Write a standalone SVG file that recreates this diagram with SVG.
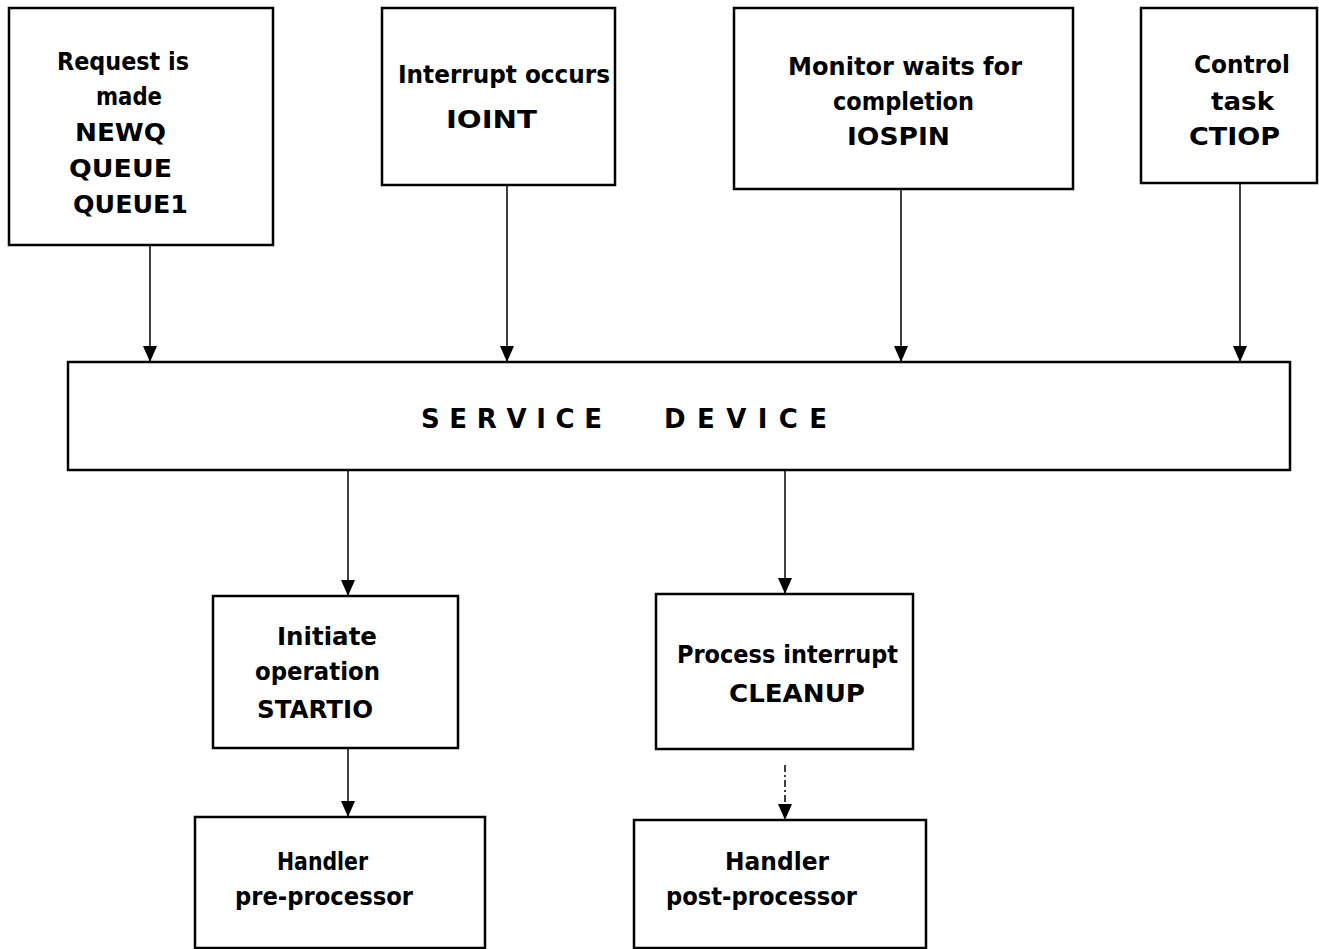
<svg xmlns="http://www.w3.org/2000/svg" width="1319" height="949" viewBox="0 0 1319 949">
<defs>
<style>
.box{fill:#fff;stroke:#000;stroke-width:2.5}
.t{font-family:"DejaVu Sans","Liberation Sans",sans-serif;font-weight:bold;font-size:25px;fill:#000}
.big{font-size:26px}
.ln{stroke:#000;stroke-width:1.5;fill:none}
</style>
<marker id="ah" markerWidth="16" markerHeight="14" refX="16" refY="7" orient="auto" markerUnits="userSpaceOnUse" viewBox="0 0 16 14">
<path d="M0,0 L16,7 L0,14 Z" fill="#000"/>
</marker>
</defs>
<rect width="1319" height="949" fill="#fff"/>
<g id="connectors">
<line class="ln" x1="150" y1="245" x2="150" y2="362" marker-end="url(#ah)"/>
<line class="ln" x1="507" y1="185" x2="507" y2="362" marker-end="url(#ah)"/>
<line class="ln" x1="901" y1="189" x2="901" y2="362" marker-end="url(#ah)"/>
<line class="ln" x1="1240" y1="183" x2="1240" y2="362" marker-end="url(#ah)"/>
<line class="ln" x1="348" y1="470" x2="348" y2="596" marker-end="url(#ah)"/>
<line class="ln" x1="785" y1="470" x2="785" y2="594" marker-end="url(#ah)"/>
<line class="ln" x1="348" y1="748" x2="348" y2="817" marker-end="url(#ah)"/>
<line class="ln" x1="785" y1="765" x2="785" y2="820" stroke-dasharray="7,3,2,3" marker-end="url(#ah)"/>
</g>
<g id="n1">
<rect class="box" x="9" y="8" width="264" height="237"/>
<text class="t" x="57" y="70" textLength="132" lengthAdjust="spacingAndGlyphs">Request is</text>
<text class="t" x="96" y="105" textLength="66" lengthAdjust="spacingAndGlyphs">made</text>
<text class="t" x="75" y="141" textLength="91" lengthAdjust="spacingAndGlyphs">NEWQ</text>
<text class="t" x="69" y="177" textLength="103" lengthAdjust="spacingAndGlyphs">QUEUE</text>
<text class="t" x="73" y="213" textLength="115" lengthAdjust="spacingAndGlyphs">QUEUE1</text>
</g>
<g id="n2">
<rect class="box" x="382" y="8" width="233" height="177"/>
<text class="t" x="398" y="83" textLength="212" lengthAdjust="spacingAndGlyphs">Interrupt occurs</text>
<text class="t" x="446" y="128" textLength="91" lengthAdjust="spacingAndGlyphs">IOINT</text>
</g>
<g id="n3">
<rect class="box" x="734" y="8" width="339" height="181"/>
<text class="t" x="788" y="75" textLength="234" lengthAdjust="spacingAndGlyphs">Monitor waits for</text>
<text class="t" x="833" y="110" textLength="141" lengthAdjust="spacingAndGlyphs">completion</text>
<text class="t" x="847" y="145" textLength="103" lengthAdjust="spacingAndGlyphs">IOSPIN</text>
</g>
<g id="n4">
<rect class="box" x="1141" y="8" width="176" height="175"/>
<text class="t" x="1194" y="73" textLength="96" lengthAdjust="spacingAndGlyphs">Control</text>
<text class="t" x="1211" y="110" textLength="63" lengthAdjust="spacingAndGlyphs">task</text>
<text class="t" x="1189" y="145" textLength="91" lengthAdjust="spacingAndGlyphs">CTIOP</text>
</g>
<g id="n5">
<rect class="box" x="68" y="362" width="1222" height="108"/>
<text class="t big" x="421" y="428" textLength="181" lengthAdjust="spacing">SERVICE</text>
<text class="t big" x="664" y="428" textLength="163" lengthAdjust="spacing">DEVICE</text>
</g>
<g id="n6">
<rect class="box" x="213" y="596" width="245" height="152"/>
<text class="t" x="277" y="645" textLength="100" lengthAdjust="spacingAndGlyphs">Initiate</text>
<text class="t" x="255" y="680" textLength="125" lengthAdjust="spacingAndGlyphs">operation</text>
<text class="t" x="257" y="718" textLength="116" lengthAdjust="spacingAndGlyphs">STARTIO</text>
</g>
<g id="n7">
<rect class="box" x="656" y="594" width="257" height="155"/>
<text class="t" x="677" y="663" textLength="221" lengthAdjust="spacingAndGlyphs">Process interrupt</text>
<text class="t" x="729" y="702" textLength="136" lengthAdjust="spacingAndGlyphs">CLEANUP</text>
</g>
<g id="n8">
<rect class="box" x="195" y="817" width="290" height="131"/>
<text class="t" x="277" y="870" textLength="91" lengthAdjust="spacingAndGlyphs">Handler</text>
<text class="t" x="235" y="905" textLength="178" lengthAdjust="spacingAndGlyphs">pre-processor</text>
</g>
<g id="n9">
<rect class="box" x="634" y="820" width="292" height="128"/>
<text class="t" x="725" y="870" textLength="104" lengthAdjust="spacingAndGlyphs">Handler</text>
<text class="t" x="666" y="905" textLength="191" lengthAdjust="spacingAndGlyphs">post-processor</text>
</g>
</svg>
